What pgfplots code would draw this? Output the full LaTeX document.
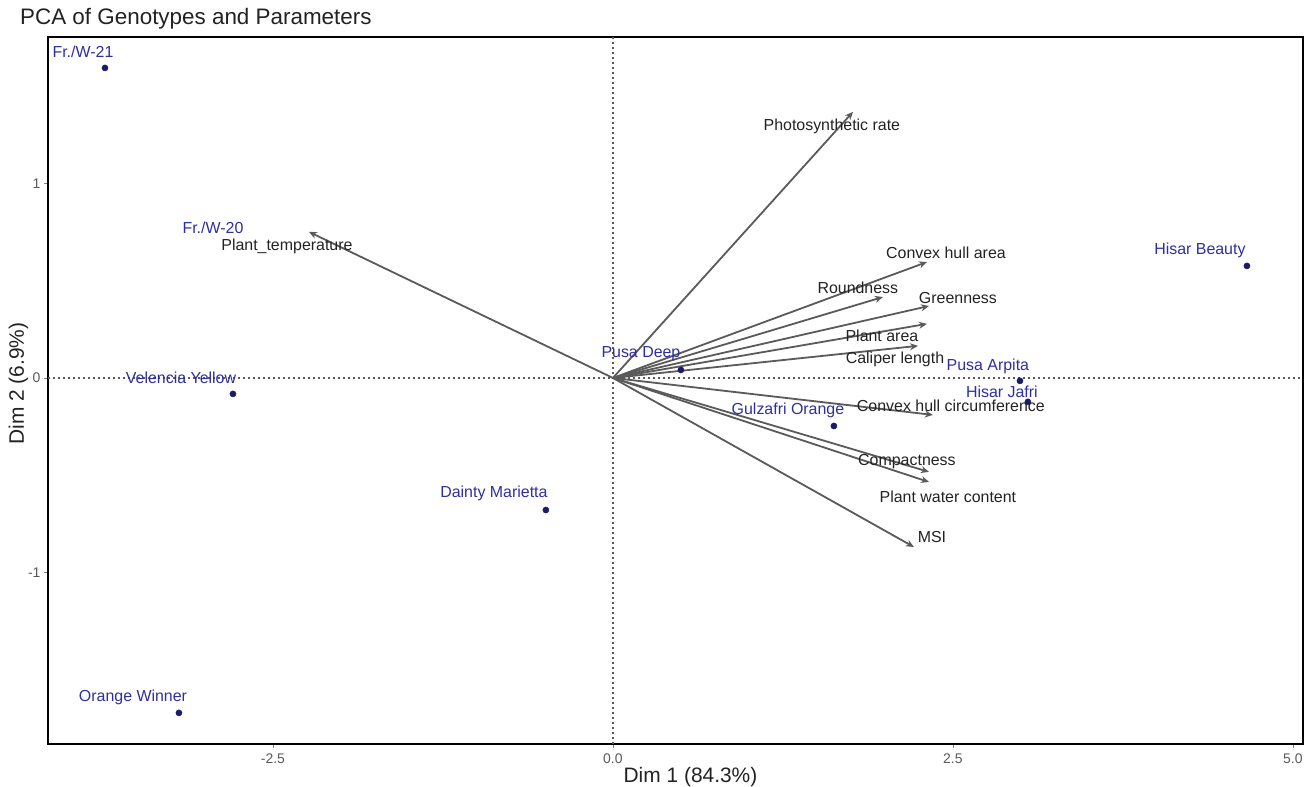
\documentclass[border=0pt]{standalone}
\usepackage{pgfplots}
\pgfplotsset{compat=1.18}
\usepackage{pgfplotstable}
\usepackage{fontspec}
\setmainfont{Liberation Sans}
\usetikzlibrary{arrows.meta}
\definecolor{ptcol}{HTML}{1B1B6B}
\definecolor{labcol}{HTML}{2E2EA0}
\definecolor{arrcol}{HTML}{5A5A5A}
\definecolor{txtcol}{HTML}{222222}

\pgfplotstableread[col sep=comma]{
x,y
-3.735,1.594
-2.794,-0.082
-0.493,-0.679
-3.191,-1.722
0.500,0.041
1.625,-0.247
2.993,-0.015
3.051,-0.123
4.662,0.576
}\genopts

\pgfplotstableread[col sep=comma]{
x,y,label
-3.897,1.676,Fr./W-21
-2.941,0.771,Fr./W-20
-3.176,0.000,Velencia Yellow
-0.875,-0.596,Dainty Marietta
-3.529,-1.640,Orange Winner
0.206,0.123,Pusa Deep
1.287,-0.165,Gulzafri Orange
2.757,0.057,Pusa Arpita
2.860,-0.072,Hisar Jafri
4.316,0.658,Hisar Beauty
}\genolabs

\pgfplotstableread[col sep=comma]{
x,y,u,v
0,0,1.765,1.368
0,0,-2.235,0.751
0,0,2.309,0.596
0,0,1.985,0.416
0,0,2.324,0.370
0,0,2.309,0.278
0,0,2.243,0.165
0,0,2.353,-0.190
0,0,2.324,-0.483
0,0,2.324,-0.535
0,0,2.213,-0.869
}\vars

\pgfplotstableread[col sep=comma]{
x,y,label
1.610,1.296,Photosynthetic rate
-2.397,0.679,Plant\_temperature
2.449,0.643,Convex hull area
1.801,0.463,Roundness
2.537,0.411,Greenness
1.978,0.216,Plant area
2.074,0.098,Caliper length
2.485,-0.144,Convex hull circumference
2.162,-0.432,Compactness
2.463,-0.612,Plant water content
2.346,-0.817,MSI
}\varlabs

\begin{document}
\begin{tikzpicture}
\path[use as bounding box] (0bp,0bp) rectangle (1314bp,787bp);
\node[anchor=west, font=\fontsize{22.5}{25}\selectfont, text=txtcol, inner sep=0pt] at (20bp,768bp) {PCA of Genotypes and Parameters};
\begin{axis}[
  at={(48bp,43bp)}, anchor=south west,
  scale only axis, width=1255bp, height=707bp,
  xmin=-4.154, xmax=5.074, ymin=-1.882, ymax=1.753,
  axis line style={line width=2.8bp, black},
  xtick={-2.5,0,2.5,5}, xticklabels={-2.5,0.0,2.5,5.0},
  ytick={-1,0,1}, yticklabels={-1,0,1},
  xtick pos=bottom, ytick pos=left, tick align=outside,
  major tick length=4bp,
  tick style={gray, line width=0.8bp},
  /pgf/number format/assume math mode=true,
  ticklabel style={font=\fontsize{14}{16}\selectfont, text=gray!70!black},
  xticklabel style={yshift=-2bp},
  xlabel={Dim 1 (84.3\%)}, ylabel={Dim 2 (6.9\%)},
  label style={font=\fontsize{21}{23}\selectfont, text=txtcol},
  xlabel style={yshift=3bp, xshift=15bp},
  ylabel style={yshift=-7bp, xshift=7bp},
  clip=false,
]
\addplot[arrcol, line width=2bp, dash pattern=on 2bp off 3bp] coordinates {(0,-1.882) (0,1.753)};
\addplot[arrcol, line width=2bp, dash pattern=on 2bp off 3bp] coordinates {(-4.154,0) (5.074,0)};
\addplot[arrcol, line width=1.8bp, -{Stealth[length=8bp,width=7bp]},
  quiver={u=\thisrow{u}, v=\thisrow{v}}, mark=none] table {\vars};
\addplot[only marks, mark=*, mark size=3.1bp, ptcol] table {\genopts};
\addplot[only marks, mark=none, nodes near coords, point meta=explicit symbolic,
  nodes near coords style={anchor=center, text=labcol, font=\fontsize{16}{18}\selectfont, inner sep=0pt}]
  table[meta=label] {\genolabs};
\addplot[only marks, mark=none, nodes near coords, point meta=explicit symbolic,
  nodes near coords style={anchor=center, text=txtcol, font=\fontsize{16}{18}\selectfont, inner sep=0pt}]
  table[meta=label] {\varlabs};
\end{axis}
\end{tikzpicture}
\end{document}
